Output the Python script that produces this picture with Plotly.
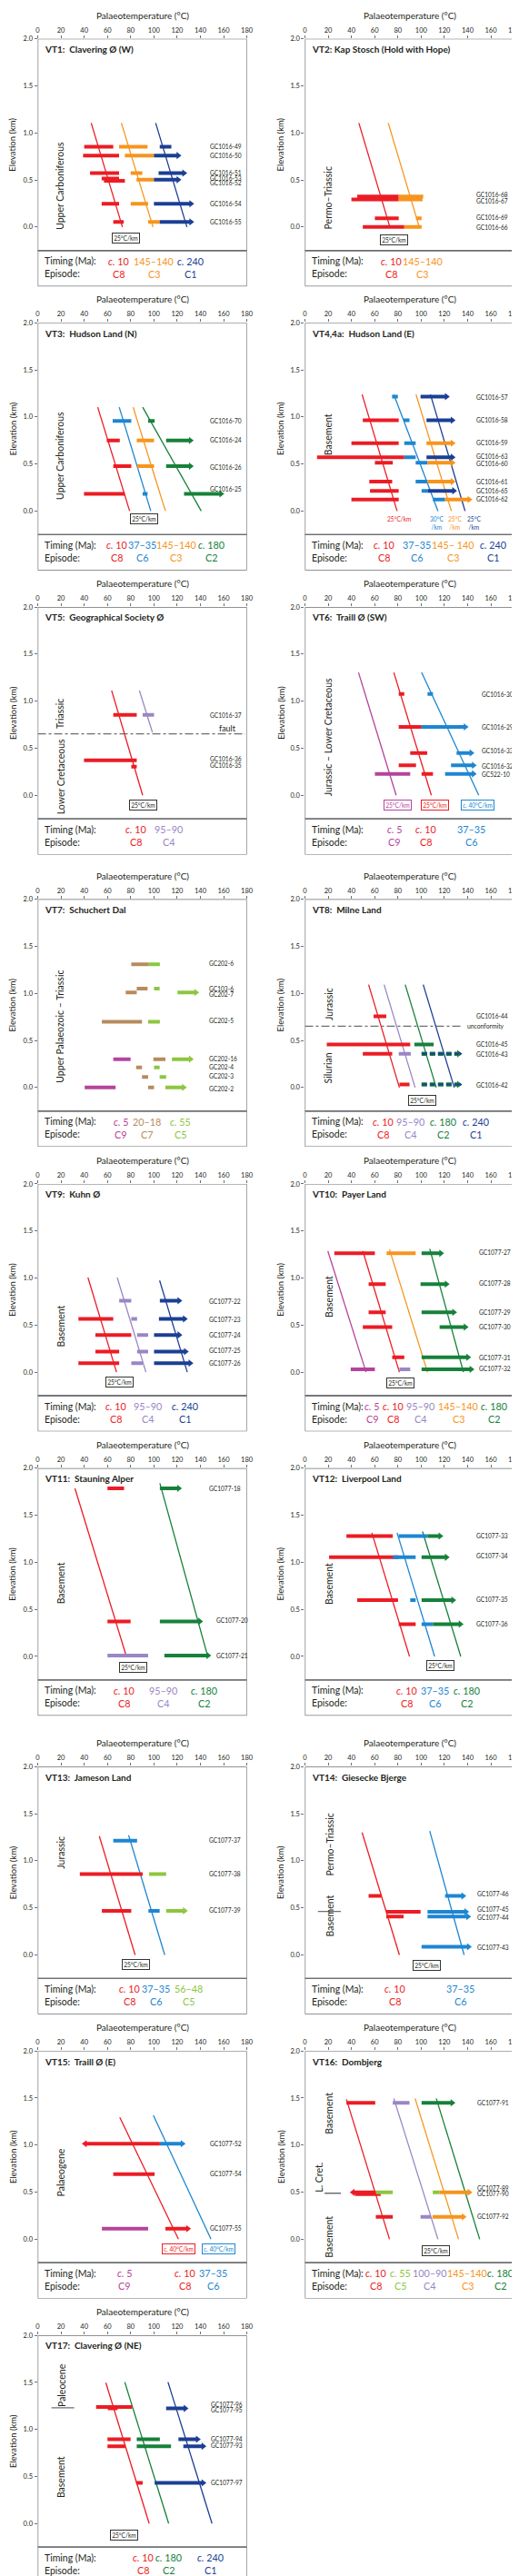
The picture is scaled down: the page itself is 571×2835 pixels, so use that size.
import plotly.graph_objects as go

# ---------------------------------------------------------------- colours
COLORS = {"C1": "#1b3f94", "C2": "#16813a", "C3": "#f7941d", "C4": "#9a86c4",
          "C5": "#8dc63f", "C6": "#1d86d2", "C7": "#b78b5e", "C8": "#ec1c24",
          "C9": "#b5449b", "K": "#231f20", "G": "#6d6e71"}

# ---------------------------------------------------------------- data
# gradients: (episode, T at top, z top, T at bottom, z bottom)
# bars: (episode, elevation km, Tmin, Tmax, kind)  kind: "" plain, ">" arrow right,
#        "<" arrow left (Tmin is tip), "d"/"d>" dashed, "o>" thin dashed overlay
# labels: (sample, elevation, x)
VT1_TITLE = "VT1:  Clavering Ø (W)"
VT1_GRAD = [("C8", 46, 1.105, 72.9, 0), ("C3", 72, 1.105, 99.2, 0), ("C1", 101.5, 1.105, 128.4, 0)]
VT1_BARS = [("C8", 0.853, 40, 65, ""), ("C3", 0.853, 70, 94.5, ""), ("C1", 0.853, 105, 115, ""),
            ("C8", 0.76, 39, 70, ""), ("C3", 0.76, 75, 100, ""), ("C1", 0.76, 100, 124, ">"),
            ("C8", 0.573, 45, 70, ""), ("C3", 0.573, 80, 90, ""), ("C1", 0.573, 104, 129, ">"),
            ("C8", 0.515, 55, 70, ""), ("C8", 0.49, 57, 75, ""), ("C3", 0.502, 85, 100, ""),
            ("C1", 0.502, 100, 124, ">"),
            ("C8", 0.248, 55, 70, ""), ("C3", 0.248, 80, 95, ""), ("C1", 0.248, 100, 135, ">"),
            ("C8", 0.055, 65, 74, ""), ("C3", 0.055, 95, 105, ""), ("C1", 0.055, 105, 135, ">")]
VT1_LABELS = [("GC1016-49", 0.853, 146.3), ("GC1016-50", 0.76, 146.3), ("GC1016-51", 0.573, 146.3),
              ("GC1016-53", 0.52, 146.3), ("GC1016-52", 0.47, 146.3), ("GC1016-54", 0.248, 146.3),
              ("GC1016-55", 0.055, 146.3)]
VT1_STRAT = [("Upper Carboniferous", 19.6, 0.44)]
VT1_GRADLABELS = [("25°C/km", "K", True, 75.7, -0.12)]
VT1_TIMING = [("<i>c.</i> 10", "C8"), ("145–140", "C3"), ("<i>c.</i> 240", "C1")]
VT1_FOOT_X = [69.8, 100, 131.2]

VT2_TITLE = "VT2: Kap Stosch (Hold with Hope)"
VT2_GRAD = [("C8", 46.4, 1.105, 73.1, 0), ("C3", 71.7, 1.105, 98.4, 0)]
VT2_BARS = [("C8", 0.325, 45, 80.7, ""), ("C3", 0.325, 80.7, 101.8, ""),
            ("C8", 0.293, 40, 80.7, ""), ("C3", 0.293, 80.7, 101.2, ""),
            ("C8", 0.093, 60.2, 80.7, ""), ("C3", 0.093, 95.6, 100.4, ""),
            ("C8", 0.0, 49.8, 85.5, ""), ("C3", 0.0, 85.5, 100.4, "")]
VT2_LABELS = [("GC1016-68", 0.345, 146.2), ("GC1016-67", 0.277, 146.2),
              ("GC1016-69", 0.103, 146.2), ("GC1016-66", 0.0, 146.2)]
VT2_STRAT = [("Permo–Triassic", 19.7, 0.31)]
VT2_GRADLABELS = [("25°C/km", "K", True, 76.5, -0.135)]
VT2_TIMING = [("<i>c.</i> 10", "C8"), ("145–140", "C3")]
VT2_FOOT_X = [74, 101]

VT3_TITLE = "VT3:  Hudson Land (N)"
VT3_GRAD = [("C8", 51.6, 1.103, 79.1, 0), ("C6", 70.1, 1.103, 97.3, 0),
            ("C3", 82.1, 1.103, 109.9, 0), ("C2", 90.3, 1.103, 140.7, 0)]
VT3_BARS = [("C6", 0.958, 64.5, 80.5, ""), ("C2", 0.958, 95, 100.6, ""),
            ("C8", 0.749, 59.4, 70.6, ""), ("C3", 0.749, 85.2, 100.1, ""), ("C2", 0.749, 110.5, 134.6, ">"),
            ("C8", 0.476, 65, 80.5, ""), ("C3", 0.476, 85.5, 100.1, ""), ("C2", 0.476, 110.5, 134.6, ">"),
            ("C8", 0.183, 39.8, 74.9, ""), ("C6", 0.183, 90.3, 94.5, ""), ("C2", 0.183, 125.9, 160.9, ">")]
VT3_LABELS = [("GC1016-70", 0.958, 146.3), ("GC1016-24", 0.756, 146.3),
              ("GC1016-26", 0.466, 146.3), ("GC1016-25", 0.235, 146.3)]
VT3_STRAT = [("Upper Carboniferous", 19.6, 0.59)]
VT3_GRADLABELS = [("25°C/km", "K", True, 91.7, -0.087)]
VT3_TIMING = [("<i>c.</i> 10", "C8"), ("37–35", "C6"), ("145–140", "C3"), ("<i>c.</i> 180", "C2")]
VT3_FOOT_X = [68.4, 89.7, 118.9, 149.4]

VT4_TITLE = "VT4,4a:  Hudson Land (E)"
VT4_GRAD = [("C8", 49.2, 1.238, 79.3, 0), ("C6", 76.5, 1.238, 114.5, 0),
            ("C3", 95.6, 1.238, 126, 0), ("C1", 108, 1.238, 137.8, 0)]
VT4_BARS = [("C6", 1.215, 75, 80, ""), ("C1", 1.215, 99.5, 125, ">"),
            ("C8", 0.965, 49.8, 80.7, ""), ("C6", 0.965, 84.9, 90, ""), ("C1", 0.965, 104.6, 130, ">"),
            ("C8", 0.72, 40, 80.7, ""), ("C6", 0.72, 85.5, 95.3, ""), ("C3", 0.72, 104.6, 130, ">"),
            ("C8", 0.572, 10.4, 85.5, ""), ("C6", 0.572, 85.5, 95.3, ""), ("C1", 0.572, 104.6, 130, ">"),
            ("C8", 0.514, 60.2, 75.6, ""), ("C6", 0.514, 95.3, 105.5, ""), ("C3", 0.514, 105.5, 130, ">"),
            ("C8", 0.312, 55.4, 75.1, ""), ("C6", 0.312, 95.3, 105.5, ""), ("C3", 0.312, 105.5, 130, ">"),
            ("C8", 0.215, 56, 80.7, ""), ("C6", 0.215, 100.4, 105.5, ""), ("C1", 0.215, 105.5, 131.3, ">"),
            ("C8", 0.122, 40, 80.7, ""), ("C6", 0.122, 110.2, 120.6, ""), ("C3", 0.122, 120.6, 144.5, ">")]
VT4_LABELS = [("GC1016-57", 1.215, 146.2), ("GC1016-58", 0.965, 146.2), ("GC1016-59", 0.727, 146.2),
              ("GC1016-63", 0.582, 146.2), ("GC1016-60", 0.502, 146.2), ("GC1016-61", 0.312, 146.2),
              ("GC1016-65", 0.215, 146.2), ("GC1016-62", 0.129, 146.2)]
VT4_STRAT = [("Basement", 19.7, 0.81)]
VT4_GRADLABELS = [("25°C/km", "C8", False, 81.3, -0.087), ("30°C<br>/km", "C6", False, 113.6, -0.122),
                  ("25°C<br>/km", "C3", False, 129.4, -0.122), ("25°C<br>/km", "C1", False, 145.4, -0.122)]
VT4_TIMING = [("<i>c.</i> 10", "C8"), ("37–35", "C6"), ("145– 140", "C3"), ("<i>c.</i> 240", "C1")]
VT4_FOOT_X = [68, 96.5, 127.7, 161.7]

VT5_TITLE = "VT5:  Geographical Society Ø"
VT5_GRAD = [("C8", 63.6, 1.113, 90.3, 0), ("C4", 87.5, 1.113, 98.7, 0.669)]
VT5_BARS = [("C8", 0.855, 65, 85.2, ""), ("C4", 0.855, 90.3, 100.1, ""),
            ("C8", 0.373, 39.8, 85.2, ""), ("C8", 0.305, 80.5, 85.2, "")]
VT5_LABELS = [("GC1016-37", 0.855, 146.3), ("GC1016-36", 0.392, 146.3), ("GC1016-35", 0.322, 146.3)]
VT5_STRAT = [("Triassic", 19.6, 0.868), ("Lower Cretaceous", 19.6, 0.2)]
VT5_GRADLABELS = [("25°C/km", "K", True, 91.1, -0.106)]
VT5_LINES = [(0.653, 0, 178.6, "dashdot", "fault", 163.7, 0.71, 9)]
VT5_TIMING = [("<i>c.</i> 10", "C8"), ("95–90", "C4")]
VT5_FOOT_X = [84.7, 112.7]

VT6_TITLE = "VT6:  Traill Ø (SW)"
VT6_GRAD = [("C9", 46.1, 1.305, 78.5, 0), ("C8", 76.5, 1.305, 108.8, 0), ("C6", 100.4, 1.305, 149.6, 0)]
VT6_BARS = [("C8", 1.077, 80.7, 85.5, ""), ("C6", 1.077, 105.5, 110.2, ""),
            ("C8", 0.727, 80.7, 100.4, ""), ("C6", 0.727, 100.4, 141.2, ">"),
            ("C8", 0.45, 90.6, 105.2, ""), ("C6", 0.45, 130.5, 146.2, ">"),
            ("C8", 0.318, 80.7, 95.6, ""), ("C6", 0.318, 125.7, 148.2, ">"),
            ("C9", 0.228, 60.2, 90.6, ""), ("C8", 0.228, 100.4, 110.2, ""), ("C6", 0.228, 120.6, 148.2, ">")]
VT6_LABELS = [("GC1016-30", 1.077, 150.4), ("GC1016-29", 0.73, 150.4), ("GC1016-33", 0.479, 150.4),
              ("GC1016-32", 0.315, 150.4), ("GC522-10", 0.228, 150.4)]
VT6_STRAT = [("Jurassic – Lower Cretaceous", 20.2, 0.62)]
VT6_GRADLABELS = [("25°C/km", "C9", True, 80.1, -0.103), ("25°C/km", "C8", True, 112.2, -0.103),
                  ("<i>c.</i> 40°C/km", "C6", True, 148.8, -0.103)]
VT6_TIMING = [("<i>c.</i> 5", "C9"), ("<i>c.</i> 10", "C8"), ("37–35", "C6")]
VT6_FOOT_X = [77, 104, 143.1]

VT7_TITLE = "VT7:  Schuchert Dal"
VT7_GRAD = []
VT7_BARS = [("C7", 1.308, 80.5, 95, ""), ("C5", 1.308, 95, 105.1, ""),
            ("C7", 1.051, 85.2, 94.5, ""), ("C5", 1.051, 100.1, 104.9, ""),
            ("C7", 1.01, 75.7, 85.2, ""), ("C5", 1.01, 120.3, 139.3, ">"),
            ("C7", 0.699, 55.2, 89.7, ""), ("C5", 0.699, 95, 105.1, ""),
            ("C9", 0.301, 65, 79.9, ""), ("C7", 0.301, 99.5, 109.9, ""), ("C5", 0.301, 115.5, 134.6, ">"),
            ("C7", 0.212, 84.7, 89.7, ""), ("C5", 0.212, 100.1, 104.9, ""),
            ("C7", 0.112, 89.7, 95, ""), ("C5", 0.112, 104.9, 110.5, ""),
            ("C9", 0.0, 40.4, 67, ""), ("C7", 0.0, 95, 100.1, ""), ("C5", 0.0, 109.9, 128.7, ">")]
VT7_LABELS = [("GC202-6", 1.317, 145.5), ("GC103-6", 1.051, 145.5), ("GC202-7", 0.994, 145.5),
              ("GC202-5", 0.708, 145.5), ("GC202-16", 0.311, 145.5), ("GC202-4", 0.218, 145.5),
              ("GC202-3", 0.119, 145.5), ("GC202-2", -0.016, 145.5)]
VT7_STRAT = [("Upper Palaeozoic – Triassic", 19.6, 0.644)]
VT7_GRADLABELS = []
VT7_TIMING = [("<i>c.</i> 5", "C9"), ("20–18", "C7"), ("<i>c.</i> 55", "C5")]
VT7_FOOT_X = [71.2, 93.9, 122.5]

VT8_TITLE = "VT8:  Milne Land"
VT8_GRAD = [("C8", 54.8, 1.093, 81.3, 0), ("C4", 68.1, 1.093, 94.8, 0),
            ("C2", 86.3, 1.093, 113, 0), ("C1", 101.8, 1.093, 128.5, 0)]
VT8_BARS = [("C8", 0.756, 59.1, 70, ""),
            ("C8", 0.458, 18.8, 90.6, ""), ("C2", 0.458, 94.2, 110.8, ""),
            ("C8", 0.359, 49.8, 75.1, ""), ("C4", 0.359, 80.7, 91.1, ""),
            ("C2", 0.359, 100.4, 135.5, "d>"), ("C1", 0.359, 100.4, 135.5, "o>"),
            ("C8", 0.032, 81.3, 90, ""),
            ("C2", 0.032, 100.4, 135.5, "d>"), ("C1", 0.032, 100.4, 135.5, "o>")]
VT8_LABELS = [("GC1016-44", 0.756, 146.2), ("GC1016-45", 0.458, 146.2),
              ("GC1016-43", 0.359, 146.2), ("GC1016-42", 0.032, 146.2)]
VT8_STRAT = [("Jurassic", 20.2, 0.89), ("Silurian", 20.2, 0.21)]
VT8_GRADLABELS = [("25°C/km", "K", True, 101.2, -0.14)]
VT8_LINES = [(0.651, 0, 135.5, "dashdot", "unconformity", 156, 0.651, 6.8)]
VT8_TIMING = [("<i>c.</i> 10", "C8"), ("95–90", "C4"), ("<i>c.</i> 180", "C2"), ("<i>c.</i> 240", "C1")]
VT8_FOOT_X = [67.2, 91.1, 119.2, 147.4]

VT9_TITLE = "VT9:  Kuhn Ø"
VT9_GRAD = [("C8", 43.2, 1.005, 67.8, 0), ("C4", 68.4, 1.005, 93.1, 0), ("C1", 104.9, 0.973, 128.7, 0)]
VT9_BARS = [("C4", 0.758, 70.1, 80.5, ""), ("C1", 0.758, 105.1, 124.8, ">"),
            ("C8", 0.565, 35, 65, ""), ("C4", 0.565, 80.5, 85.5, ""), ("C1", 0.565, 104.3, 129.5, ">"),
            ("C8", 0.395, 49.6, 80.5, ""), ("C4", 0.395, 85.5, 95, ""), ("C1", 0.395, 100.1, 124.8, ">"),
            ("C8", 0.218, 49.6, 70.1, ""), ("C4", 0.218, 85.5, 95, ""), ("C1", 0.218, 100.1, 130.4, ">"),
            ("C8", 0.096, 35, 70.1, ""), ("C4", 0.096, 80.5, 90.3, ""), ("C1", 0.096, 100.1, 134.3, ">")]
VT9_LABELS = [("GC1077-22", 0.758, 145.5), ("GC1077-23", 0.565, 145.5), ("GC1077-24", 0.395, 145.5),
              ("GC1077-25", 0.228, 145.5), ("GC1077-26", 0.096, 145.5)]
VT9_STRAT = [("Basement", 19.6, 0.485)]
VT9_GRADLABELS = [("25°C/km", "K", True, 70.6, -0.103)]
VT9_TIMING = [("<i>c.</i> 10", "C8"), ("95–90", "C4"), ("<i>c.</i> 240", "C1")]
VT9_FOOT_X = [67, 94.5, 126.4]

VT10_TITLE = "VT10:  Payer Land"
VT10_GRAD = [("C9", 19.7, 1.287, 52.6, 0), ("C8", 49.8, 1.287, 81.3, 0),
             ("C3", 72.8, 1.303, 105.5, 0), ("C2", 107.4, 1.31, 136.4, 0)]
VT10_BARS = [("C8", 1.262, 25.3, 60.2, ""), ("C3", 1.262, 70.3, 95.3, ""), ("C2", 1.262, 100.4, 120.1, ">"),
             ("C8", 0.934, 54.8, 69.5, ""), ("C2", 0.934, 99.5, 124.9, ">"),
             ("C8", 0.636, 54.8, 69.5, ""), ("C2", 0.636, 100.4, 131.3, ">"),
             ("C8", 0.478, 49.8, 75.1, ""), ("C2", 0.478, 115.9, 141.2, ">"),
             ("C8", 0.157, 75.1, 85.5, ""), ("C2", 0.157, 100.4, 143.4, ">"),
             ("C9", 0.029, 39.4, 60.2, ""), ("C4", 0.029, 81.3, 90.6, ""), ("C2", 0.029, 100.4, 146.2, ">")]
VT10_LABELS = [("GC1077-27", 1.271, 148.2), ("GC1077-28", 0.947, 148.2), ("GC1077-29", 0.642, 148.2),
               ("GC1077-30", 0.488, 148.2), ("GC1077-31", 0.157, 148.2), ("GC1077-32", 0.042, 148.2)]
VT10_STRAT = [("Basement", 20.2, 0.806)]
VT10_GRADLABELS = [("25°C/km", "K", True, 82.1, -0.119)]
VT10_TIMING = [("<i>c.</i> 5", "C9"), ("<i>c.</i> 10", "C8"), ("95–90", "C4"), ("145–140", "C3"),
               ("<i>c.</i> 180", "C2")]
VT10_FOOT_X = [57.6, 75.9, 99.5, 131.9, 162.8]

VT11_TITLE = "VT11:  Stauning Alper"
VT11_GRAD = [("C8", 32, 1.785, 76.3, 0), ("C2", 105.1, 1.84, 146.3, 0)]
VT11_BARS = [("C8", 1.785, 60, 74.3, ""), ("C2", 1.785, 105.1, 124.5, ">"),
             ("C8", 0.372, 60, 79.9, ""), ("C2", 0.372, 105.1, 142.7, ">"),
             ("C4", 0.01, 60, 95, ""), ("C2", 0.01, 109, 149.7, ">")]
VT11_LABELS = [("GC1077-18", 1.785, 145.5), ("GC1077-20", 0.382, 151.9), ("GC1077-21", 0.01, 151.9)]
VT11_STRAT = [("Basement", 19.6, 0.774)]
VT11_GRADLABELS = [("25°C/km", "K", True, 81.9, -0.116)]
VT11_TIMING = [("<i>c.</i> 10", "C8"), ("95–90", "C4"), ("<i>c.</i> 180", "C2")]
VT11_FOOT_X = [74.6, 107.9, 143]

VT12_TITLE = "VT12:  Liverpool Land"
VT12_GRAD = [("C8", 57.6, 1.313, 90, 0), ("C6", 79.3, 1.313, 111.6, 0), ("C2", 101.2, 1.326, 134.1, 0)]
VT12_BARS = [("C8", 1.278, 35.7, 75.6, ""), ("C6", 1.278, 80.7, 105.5, ""), ("C2", 1.278, 105.5, 119.5, ">"),
             ("C8", 1.053, 20.8, 80.7, ""), ("C6", 1.053, 75.6, 95.3, ""), ("C2", 1.053, 100.4, 124.9, ">"),
             ("C8", 0.597, 45, 80.1, ""), ("C6", 0.597, 90.6, 95.3, ""), ("C2", 0.597, 100.4, 130.5, ">"),
             ("C8", 0.343, 80.7, 95.3, ""), ("C6", 0.343, 100.4, 110.2, ""), ("C2", 0.343, 110.2, 136.9, ">")]
VT12_LABELS = [("GC1077-33", 1.284, 146.2), ("GC1077-34", 1.069, 146.2),
               ("GC1077-35", 0.61, 146.2), ("GC1077-36", 0.35, 146.2)]
VT12_STRAT = [("Basement", 20.2, 0.774)]
VT12_GRADLABELS = [("25°C/km", "K", True, 116.4, -0.096)]
VT12_TIMING = [("<i>c.</i> 10", "C8"), ("37–35", "C6"), ("<i>c.</i> 180", "C2")]
VT12_FOOT_X = [87.7, 112.2, 139.2]

VT13_TITLE = "VT13:  Jameson Land"
VT13_GRAD = [("C8", 53, 1.262, 83.8, 0), ("C6", 78.2, 1.271, 109.3, 0)]
VT13_BARS = [("C6", 1.213, 65, 85.5, ""),
             ("C8", 0.86, 36.2, 90.3, ""), ("C5", 0.86, 95.9, 110.5, ""),
             ("C8", 0.469, 55.2, 80.5, ""), ("C6", 0.469, 95.3, 104.9, ""), ("C5", 0.469, 110.5, 129.5, ">")]
VT13_LABELS = [("GC1077-37", 1.223, 145.5), ("GC1077-38", 0.867, 145.5), ("GC1077-39", 0.475, 145.5)]
VT13_STRAT = [("Jurassic", 19.6, 1.085)]
VT13_GRADLABELS = [("25°C/km", "K", True, 84.1, -0.103)]
VT13_TIMING = [("<i>c.</i> 10", "C8"), ("37–35", "C6"), ("56–48", "C5")]
VT13_FOOT_X = [79.1, 102, 129.5]

VT14_TITLE = "VT14:  Giesecke Bjerge"
VT14_GRAD = [("C8", 49.2, 1.3, 81.3, 0), ("C6", 107.4, 1.316, 137, 0)]
VT14_BARS = [("C8", 0.626, 54.8, 65.8, ""), ("C6", 0.626, 120.6, 139.2, ">"),
             ("C8", 0.459, 70, 99.5, ""), ("C6", 0.459, 105.5, 141.7, ">"),
             ("C8", 0.408, 70, 84.9, ""), ("C6", 0.408, 105.5, 143.4, ">"),
             ("C6", 0.087, 100.4, 144, ">")]
VT14_LABELS = [("GC1077-46", 0.648, 146.8), ("GC1077-45", 0.485, 146.8),
               ("GC1077-44", 0.401, 146.8), ("GC1077-43", 0.083, 146.8)]
VT14_STRAT = [("Permo–Triassic", 21.7, 1.17), ("Basement", 21.7, 0.417)]
VT14_GRADLABELS = [("25°C/km", "K", True, 105.2, -0.112)]
VT14_LINES = [(0.462, 11.2, 30.9, "solid", "", 0, 0, 0)]
VT14_TIMING = [("<i>c.</i> 10", "C8"), ("37–35", "C6")]
VT14_FOOT_X = [77.3, 133.6]

VT15_TITLE = "VT15:  Traill Ø (E)"
VT15_GRAD = [("C8", 70.6, 1.294, 121.1, 0), ("C6", 99.5, 1.316, 149.1, 0)]
VT15_BARS = [("C8", 1.014, 37.6, 105.1, "<"), ("C6", 1.014, 105.1, 127.6, ">"),
             ("C8", 0.69, 65, 100.6, ""),
             ("C9", 0.112, 55.2, 95, ""), ("C8", 0.112, 109.9, 132.3, ">")]
VT15_LABELS = [("GC1077-52", 1.014, 146.9), ("GC1077-54", 0.697, 146.9), ("GC1077-55", 0.116, 146.9)]
VT15_STRAT = [("Palaeogene", 19.6, 0.709)]
VT15_GRADLABELS = [("<i>c.</i> 40°C/km", "C8", True, 121.1, -0.1),
                   ("<i>c.</i> 40°C/km", "C6", True, 155.6, -0.1)]
VT15_TIMING = [("<i>c.</i> 5", "C9"), ("<i>c.</i> 10", "C8"), ("37–35", "C6")]
VT15_FOOT_X = [74.3, 126.7, 151.1]

VT16_TITLE = "VT16:  Dombjerg"
VT16_GRAD = [("C8", 35.7, 1.486, 72.8, 0), ("C4", 76.5, 1.496, 114.5, 0),
             ("C3", 94.8, 1.496, 132.2, 0), ("C2", 113, 1.496, 150.4, 0)]
VT16_BARS = [("C8", 1.448, 35.7, 60.5, ""), ("C4", 1.448, 75.6, 90, ""), ("C2", 1.448, 100.4, 129.9, ">"),
             ("C8", 0.478, 43, 65.2, ""),
             ("C5", 0.498, 61, 75.6, ""), ("C8", 0.498, 38.2, 61, "<"),
             ("C5", 0.498, 110, 116, ""), ("C3", 0.498, 116, 144.5, ">"),
             ("C8", 0.238, 61, 75.6, ""), ("C4", 0.238, 99.5, 108.5, ""), ("C3", 0.238, 109.8, 139.5, ">")]
VT16_LABELS = [("GC1077-91", 1.454, 146.8), ("GC1077-89", 0.539, 146.8),
               ("GC1077-90", 0.482, 146.8), ("GC1077-92", 0.244, 146.8)]
VT16_STRAT = [("Basement", 21.1, 1.342), ("L. Cret.", 12.3, 0.655), ("Basement", 21.1, 0.03)]
VT16_GRADLABELS = [("25°C/km", "K", True, 113, -0.119)]
VT16_LINES = [(0.488, 16.9, 30.9, "solid", "", 0, 0, 0)]
VT16_TIMING = [("<i>c.</i> 10", "C8"), ("<i>c.</i> 55", "C5"), ("100–90", "C4"), ("145–140", "C3"),
               ("<i>c.</i> 180", "C2")]
VT16_FOOT_X = [61.3, 81.8, 107.4, 139.8, 167.9]

VT17_TITLE = "VT17:  Clavering Ø (NE)"
VT17_GRAD = [("C8", 58.6, 1.496, 95.9, 0), ("C2", 74.9, 1.502, 112.7, 0), ("C1", 112.1, 1.502, 150, 0)]
VT17_BARS = [("C8", 1.239, 50.2, 81.3, ""), ("C8", 1.223, 60.3, 68.7, ""), ("C1", 1.223, 110.5, 130.1, ">"),
             ("C8", 0.896, 60, 79.9, ""), ("C2", 0.896, 85.2, 105.1, ""), ("C1", 0.896, 121.1, 140.7, ">"),
             ("C8", 0.822, 60, 75.4, ""), ("C2", 0.822, 85.2, 114.7, ""), ("C1", 0.822, 125.3, 145.5, ">"),
             ("C8", 0.433, 84.7, 90.3, ""), ("C1", 0.433, 100.6, 145.5, ">")]
VT17_LABELS = [("GC1077-96", 1.268, 147.7), ("GC1077-95", 1.21, 147.7), ("GC1077-94", 0.905, 147.7),
               ("GC1077-93", 0.832, 147.7), ("GC1077-97", 0.433, 147.7)]
VT17_STRAT = [("Paleocene", 20.7, 1.47), ("Basement", 19.6, 0.49)]
VT17_GRADLABELS = [("25°C/km", "K", True, 74, -0.119)]
VT17_LINES = [(1.23, 11.8, 31.4, "solid", "", 0, 0, 0)]
VT17_TIMING = [("<i>c.</i> 10", "C8"), ("<i>c.</i> 180", "C2"), ("<i>c.</i> 240", "C1")]
VT17_FOOT_X = [91.1, 112.4, 148.3]

X_TICKS = [0, 20, 40, 60, 80, 100, 120, 140, 160, 180]
Y_TICKS = [0.0, 0.5, 1.0, 1.5, 2.0]
Y_TICKTEXT = ["0.0", "0.5", "1.0", "1.5", "2.0"]

g = globals()
PANELS = []
for k in range(1, 18):
    PANELS.append(dict(title=g[f"VT{k}_TITLE"], grad=g[f"VT{k}_GRAD"], bars=g[f"VT{k}_BARS"],
                       labels=g[f"VT{k}_LABELS"], strat=g[f"VT{k}_STRAT"],
                       gradlabels=g[f"VT{k}_GRADLABELS"], timing=g[f"VT{k}_TIMING"],
                       foot_x=g[f"VT{k}_FOOT_X"], lines=g.get(f"VT{k}_LINES", [])))

# ---------------------------------------------------------------- layout geometry
W, H = 571, 2835
FONT = "Lato, 'Noto Sans', sans-serif"
COL_PX = [(32.05, 265.8), (330.7, 564.5)]
ROW_TOP = [30.7, 343.7, 657, 979, 1292.7, 1606, 1935, 2248.3, 2561.7]
YLAB_PX = [4.0, 303.5]
KM_PX = 103.75
Y_RANGE = (-0.63, 2.0)
BOX_BOTTOM = -0.25
PX_PER_C = (COL_PX[0][1] - COL_PX[0][0]) / 180.0
ARROW_SIZE = 7
BAR_W = 4
TEXT = COLORS["K"]
GRAY = COLORS["G"]
FOOT_LABEL_SIZE = 10.5
FOOT_VALUE_SIZE = 10.8

fig = go.Figure()
layout = {}
ann = []
shapes = []

tip_off = 0.577 * ARROW_SIZE / PX_PER_C

for i, p in enumerate(PANELS):
    r, c = divmod(i, 2)
    n = "" if i == 0 else str(i + 1)
    xa, ya = "x" + n, "y" + n
    x0, x1 = COL_PX[c]
    top = ROW_TOP[r]
    bot = top + (Y_RANGE[1] - Y_RANGE[0]) * KM_PX
    layout["xaxis" + n] = dict(domain=[x0 / W, x1 / W], range=[0, 180], side="top", anchor=ya,
                               tickvals=X_TICKS, ticks="outside", ticklen=3, tickwidth=1,
                               tickcolor=GRAY, tickfont=dict(size=7.5, color=TEXT, family=FONT),
                               showgrid=False, zeroline=False, showline=False, fixedrange=True)
    layout["yaxis" + n] = dict(domain=[1 - bot / H, 1 - top / H], range=list(Y_RANGE), anchor=xa,
                               tickvals=Y_TICKS, ticktext=Y_TICKTEXT, ticks="outside", ticklen=3,
                               tickwidth=1, tickcolor=GRAY,
                               tickfont=dict(size=7.5, color=TEXT, family=FONT),
                               showgrid=False, zeroline=False, showline=False, fixedrange=True)
    # frames
    shapes.append(dict(type="rect", xref=xa, yref=ya, x0=0, x1=180, y0=BOX_BOTTOM, y1=2.0,
                       line=dict(color=GRAY, width=1.3), layer="above"))
    shapes.append(dict(type="rect", xref=xa, yref=ya, x0=0, x1=180, y0=Y_RANGE[0], y1=BOX_BOTTOM,
                       line=dict(color=GRAY, width=1.3), layer="above"))
    # axis titles
    ann.append(dict(text="Palaeotemperature (°C)", xref="paper", yref="paper",
                    x=(x0 + x1) / 2 / W, y=1 - (top - 26) / H, showarrow=False,
                    font=dict(size=10, color=TEXT, family=FONT), xanchor="center", yanchor="middle"))
    ann.append(dict(text="Elevation (km)", xref="paper", yref=ya, x=YLAB_PX[c] / W, y=0.88,
                    textangle=-90, showarrow=False, font=dict(size=9.5, color=TEXT, family=FONT),
                    xanchor="center", yanchor="middle"))
    # panel title
    ann.append(dict(text="<b>" + p["title"] + "</b>", xref=xa, yref=ya, x=4.0, y=1.89,
                    showarrow=False, xanchor="left", yanchor="middle",
                    font=dict(size=10, color=TEXT, family=FONT)))
    # horizontal boundary lines
    for (z, a, b, dash, lab, lx, lz, lsize) in p["lines"]:
        fig.add_trace(go.Scatter(x=[a, b], y=[z, z], mode="lines", xaxis=xa, yaxis=ya,
                                 line=dict(color=GRAY, width=1.4, dash=dash), hoverinfo="skip",
                                 showlegend=False))
        if lab:
            ann.append(dict(text=lab, xref=xa, yref=ya, x=lx, y=lz, showarrow=False,
                            xanchor="center", yanchor="middle",
                            font=dict(size=lsize, color=TEXT, family=FONT)))
    # gradient lines
    for (ep, ta, za, tb, zb) in p["grad"]:
        fig.add_trace(go.Scatter(x=[ta, tb], y=[za, zb], mode="lines", xaxis=xa, yaxis=ya,
                                 line=dict(color=COLORS[ep], width=1.3), hoverinfo="skip",
                                 showlegend=False))
    # bars
    for (ep, z, t0, t1, kind) in p["bars"]:
        col = COLORS[ep]
        dash = "solid"
        width = BAR_W
        if kind.startswith("d"):
            dash = "6px,3px"
            width = 4.5
        if kind.startswith("o"):
            dash = "6px,3px"
            width = 2.2
        xs = [t0, t1]
        if kind.endswith(">"):
            xs = [t0, t1 - tip_off]
        if kind.endswith("<"):
            xs = [t0 + tip_off, t1]
        fig.add_trace(go.Scatter(x=xs, y=[z, z], mode="lines", xaxis=xa, yaxis=ya,
                                 line=dict(color=col, width=width, dash=dash), hoverinfo="skip",
                                 showlegend=False))
        if kind.endswith(">") or kind.endswith("<"):
            right = kind.endswith(">")
            size = ARROW_SIZE if not kind.startswith("o") else ARROW_SIZE - 3
            off = 0.577 * size / PX_PER_C
            fig.add_trace(go.Scatter(x=[t1 - off if right else t0 + off], y=[z], mode="markers",
                                     xaxis=xa, yaxis=ya,
                                     marker=dict(symbol="triangle-right" if right else "triangle-left",
                                                 size=size, color=col, line=dict(width=0)),
                                     hoverinfo="skip", showlegend=False))
    # sample labels
    for (name, z, lx) in p["labels"]:
        ann.append(dict(text=name, xref=xa, yref=ya, x=lx, y=z, showarrow=False, xanchor="left",
                        yanchor="middle", font=dict(size=6.6, color=TEXT, family=FONT)))
    # stratigraphy
    for (txt, sx, sz) in p["strat"]:
        ann.append(dict(text=txt, xref=xa, yref=ya, x=sx, y=sz, showarrow=False, textangle=-90,
                        xanchor="center", yanchor="middle",
                        font=dict(size=10.5, color=TEXT, family=FONT)))
    # gradient labels
    for (txt, ck, boxed, gx, gz) in p["gradlabels"]:
        d = dict(text=txt, xref=xa, yref=ya, x=gx, y=gz, showarrow=False, xanchor="center",
                 yanchor="middle", font=dict(size=6.6, color=COLORS[ck], family=FONT))
        if boxed:
            d.update(bordercolor=COLORS[ck] if ck != "K" else "#333333", borderwidth=1,
                     borderpad=1.2, bgcolor="white")
        ann.append(d)
    # footer
    ann.append(dict(text="Timing (Ma):", xref=xa, yref=ya, x=4.0, y=-0.362, showarrow=False,
                    xanchor="left", yanchor="middle",
                    font=dict(size=FOOT_LABEL_SIZE, color=TEXT, family=FONT)))
    ann.append(dict(text="Episode:", xref=xa, yref=ya, x=4.0, y=-0.497, showarrow=False,
                    xanchor="left", yanchor="middle",
                    font=dict(size=FOOT_LABEL_SIZE, color=TEXT, family=FONT)))
    for (tt, ep), fx in zip(p["timing"], p["foot_x"]):
        ann.append(dict(text=tt, xref=xa, yref=ya, x=fx, y=-0.362, showarrow=False,
                        xanchor="center", yanchor="middle",
                        font=dict(size=FOOT_VALUE_SIZE, color=COLORS[ep], family=FONT)))
        ann.append(dict(text=ep, xref=xa, yref=ya, x=fx, y=-0.497, showarrow=False,
                        xanchor="center", yanchor="middle",
                        font=dict(size=FOOT_VALUE_SIZE, color=COLORS[ep], family=FONT)))

fig.update_layout(**layout)
fig.update_layout(width=W, height=H, autosize=False, margin=dict(l=0, r=0, t=0, b=0),
                  paper_bgcolor="white", plot_bgcolor="white", showlegend=False,
                  annotations=ann, shapes=shapes, font=dict(family=FONT, color=TEXT))
fig.write_html("out.html")
